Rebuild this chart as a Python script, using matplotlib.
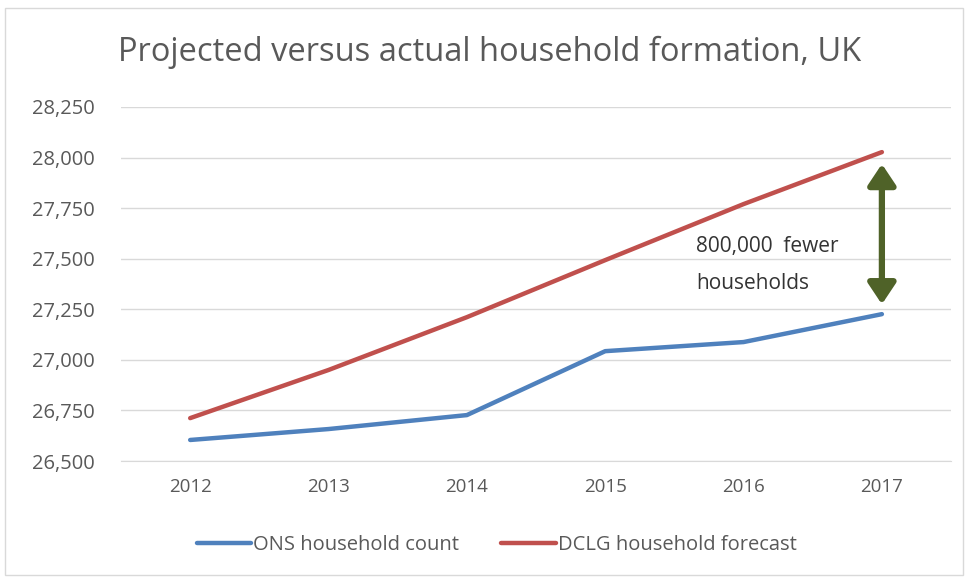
import matplotlib.pyplot as plt
from matplotlib.patches import Rectangle, FancyArrowPatch
from matplotlib.ticker import FuncFormatter

years = [2012, 2013, 2014, 2015, 2016, 2017]
ons_count = [26604, 26658, 26727, 27043, 27088, 27226]
dclg_forecast = [26712, 26950, 27211, 27493, 27770, 28027]
y_ticks = [26500, 26750, 27000, 27250, 27500, 27750, 28000, 28250]

plt.rcParams['font.family'] = ['Open Sans', 'DejaVu Sans']

fig = plt.figure(figsize=(9.68, 5.78), dpi=100)
ax = fig.add_axes([0.125, 0.2024, 0.8575, 0.6125])

x = range(len(years))
ax.plot(x, ons_count, color='#4f81bd', lw=3.2, solid_capstyle='round', label='ONS household count')
ax.plot(x, dclg_forecast, color='#c0504d', lw=3.2, solid_capstyle='round', label='DCLG household forecast')

ax.set_xlim(-0.5, len(years) - 0.5)
ax.set_ylim(y_ticks[0], y_ticks[-1])
ax.set_yticks(y_ticks)
ax.yaxis.set_major_formatter(FuncFormatter(lambda v, p: f'{int(v):,}'))
ax.set_xticks(list(x))
ax.set_xticklabels([str(y) for y in years])
ax.grid(axis='y', color='#d9d9d9', lw=1)
ax.set_axisbelow(True)
for s in ax.spines.values():
    s.set_visible(False)
ax.spines['bottom'].set_visible(True)
ax.spines['bottom'].set_color('#d9d9d9')
ax.tick_params(length=0, labelcolor='#595959')
ax.tick_params(axis='y', pad=19, labelsize=14.5)
ax.tick_params(axis='x', pad=12, labelsize=13.5)

# gap arrow and label
last = len(years) - 1
arr = FancyArrowPatch((last, dclg_forecast[-1] - 45), (last, ons_count[-1] + 35),
                      arrowstyle='<|-|>,head_length=0.9,head_width=0.6',
                      mutation_scale=14, color='#4f6228', lw=4.5)
ax.add_patch(arr)
ax.text(3.656, 27610, '800,000  fewer\nhouseholds', ha='left', va='top',
        fontsize=15, color='#333333', linespacing=2.0)

fig.text(0.506, 0.91, 'Projected versus actual household formation, UK',
         ha='center', va='center', fontsize=23.5, color='#595959')

fig.legend(loc='center', bbox_to_anchor=(0.513, 0.057), ncol=2, frameon=False,
           fontsize=14.5, handlelength=2.7, handletextpad=0.1, columnspacing=2.1,
           labelcolor='#595959')

fig.patches.append(Rectangle((0.005, 0.005), 0.99, 0.982, transform=fig.transFigure,
                             fill=False, ec='#d9d9d9', lw=1))

fig.savefig('out.png', dpi=100)
